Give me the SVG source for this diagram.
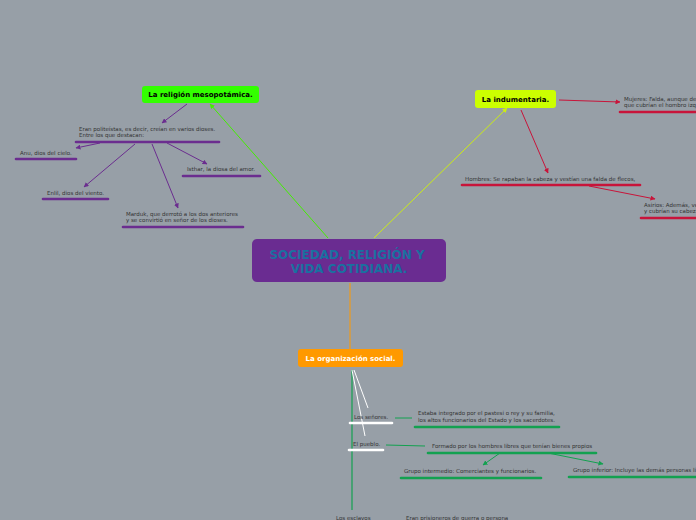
<svg xmlns="http://www.w3.org/2000/svg" width="696" height="520" viewBox="0 0 696 520">
<defs>
<marker id="ap" viewBox="0 0 10 10" refX="9" refY="5" markerWidth="5" markerHeight="5" orient="auto" markerUnits="userSpaceOnUse"><path d="M0,0L10,5L0,10z" fill="#6b2d8f"/></marker>
<marker id="ar" viewBox="0 0 10 10" refX="9" refY="5" markerWidth="5" markerHeight="5" orient="auto" markerUnits="userSpaceOnUse"><path d="M0,0L10,5L0,10z" fill="#c8143a"/></marker>
<marker id="ag" viewBox="0 0 10 10" refX="9" refY="5" markerWidth="5" markerHeight="5" orient="auto" markerUnits="userSpaceOnUse"><path d="M0,0L10,5L0,10z" fill="#13a150"/></marker>
<marker id="agr" viewBox="0 0 10 10" refX="9" refY="5" markerWidth="5" markerHeight="5" orient="auto" markerUnits="userSpaceOnUse"><path d="M0,0L10,5L0,10z" fill="#44ee00"/></marker>
<marker id="ay" viewBox="0 0 10 10" refX="9" refY="5" markerWidth="5" markerHeight="5" orient="auto" markerUnits="userSpaceOnUse"><path d="M0,0L10,5L0,10z" fill="#ccee11"/></marker>
</defs>
<style>
.t{font-family:"DejaVu Sans",Verdana,sans-serif;font-size:5.5px;fill:#333}
.h{font-family:"DejaVu Sans",Verdana,sans-serif;font-size:7px;font-weight:bold;text-anchor:middle}
.p{stroke:#6b2d8f;stroke-width:1;fill:none}
.r{stroke:#c8143a;stroke-width:1;fill:none}
.g{stroke:#13a150;stroke-width:1;fill:none}
.up{stroke:#6b2d8f;stroke-width:2.6;stroke-linecap:round}
.ur{stroke:#c8143a;stroke-width:2.6;stroke-linecap:round}
.ug{stroke:#13a150;stroke-width:2.6;stroke-linecap:round}
.uw{stroke:#ffffff;stroke-width:2.6;stroke-linecap:round}
</style>
<rect width="696" height="520" fill="#979fa7"/>
<g id="connectors">
<line x1="328" y1="238" x2="210" y2="104" stroke="#44ee00" stroke-width="1" marker-end="url(#agr)"/>
<line x1="374" y1="238" x2="507" y2="108" stroke="#ccee11" stroke-width="1" marker-end="url(#ay)"/>
<line x1="350" y1="283" x2="350" y2="349" stroke="#ff9900" stroke-width="1"/>
<line x1="187" y1="104" x2="162" y2="123" class="p" marker-end="url(#ap)"/>
<line x1="100" y1="143" x2="76" y2="148" class="p" marker-end="url(#ap)"/>
<line x1="135" y1="144" x2="84" y2="187" class="p" marker-end="url(#ap)"/>
<line x1="152" y1="144" x2="178" y2="208" class="p" marker-end="url(#ap)"/>
<line x1="167" y1="143" x2="207" y2="164" class="p" marker-end="url(#ap)"/>
<line x1="559" y1="100" x2="620" y2="102" class="r" marker-end="url(#ar)"/>
<line x1="521" y1="110" x2="548" y2="173" class="r" marker-end="url(#ar)"/>
<line x1="589" y1="186" x2="655" y2="199" class="r" marker-end="url(#ar)"/>
<line x1="352" y1="370" x2="352" y2="510" stroke="#13a150" stroke-width="1.2"/>
<line x1="354" y1="370" x2="368" y2="408" stroke="#ffffff" stroke-width="1"/>
<line x1="352" y1="370" x2="365" y2="436" stroke="#ffffff" stroke-width="1"/>
<line x1="395" y1="418" x2="412" y2="418" class="g"/>
<line x1="386" y1="445" x2="425" y2="446" class="g"/>
<line x1="500" y1="453" x2="483" y2="465" class="g" marker-end="url(#ag)"/>
<line x1="548" y1="453" x2="603" y2="464" class="g" marker-end="url(#ag)"/>
</g>
<g id="central">
<rect x="252" y="239" width="194" height="43" rx="5" fill="#6a2c91"/>
<text x="347" y="259" font-family="DejaVu Sans,Verdana,sans-serif" font-size="12" font-weight="bold" fill="#1a70a0" text-anchor="middle">SOCIEDAD, RELIGIÓN Y</text>
<text x="349" y="273" font-family="DejaVu Sans,Verdana,sans-serif" font-size="12" font-weight="bold" fill="#1a70a0" text-anchor="middle">VIDA COTIDIANA.</text>
</g>
<g id="religion">
<rect x="142" y="86" width="117" height="17" rx="3" fill="#33ff00"/>
<text x="200.5" y="97" class="h" fill="#000">La religión mesopotámica.</text>
</g>
<g id="politeistas">
<text x="79" y="131" class="t">Eran politeístas, es decir, creían en varios dioses.</text>
<text x="79" y="137" class="t">Entre los que destacan:</text>
<line x1="76" y1="142" x2="219" y2="142" class="up"/>
</g>
<g id="anu">
<text x="20" y="155" class="t">Anu, dios del cielo.</text>
<line x1="16" y1="159" x2="76" y2="159" class="up"/>
</g>
<g id="enlil">
<text x="47" y="195" class="t">Enlil, dios del viento.</text>
<line x1="43" y1="199" x2="108" y2="199" class="up"/>
</g>
<g id="marduk">
<text x="126" y="216" class="t">Marduk, que derrotó a los dos anteriores</text>
<text x="126" y="222" class="t">y se convirtió en señor de los dioses.</text>
<line x1="123" y1="227" x2="243" y2="227" class="up"/>
</g>
<g id="isthar">
<text x="187" y="171" class="t">Isthar, la diosa del amor.</text>
<line x1="183" y1="176" x2="260" y2="176" class="up"/>
</g>
<g id="indumentaria">
<rect x="475" y="90" width="81" height="18" rx="3" fill="#ccff00"/>
<text x="515.5" y="101.5" class="h" fill="#000">La indumentaria.</text>
</g>
<g id="mujeres">
<text x="624" y="101" class="t">Mujeres: Falda, aunque dejaban</text>
<text x="624" y="107" class="t">que cubrían el hombro izquierdo</text>
<line x1="620" y1="112" x2="700" y2="112" class="ur"/>
</g>
<g id="hombres">
<text x="465" y="181" class="t">Hombres: Se rapaban la cabeza y vestían una falda de flecos,</text>
<line x1="462" y1="185" x2="640" y2="185" class="ur"/>
</g>
<g id="asirios">
<text x="644" y="207" class="t">Asirios: Además, vestían</text>
<text x="644" y="213" class="t">y cubrían su cabeza</text>
<line x1="641" y1="218" x2="700" y2="218" class="ur"/>
</g>
<g id="organizacion">
<rect x="298" y="349" width="105" height="18" rx="3" fill="#ff9900"/>
<text x="350.5" y="360.5" class="h" fill="#ffffff">La organización social.</text>
</g>
<g id="senores">
<text x="354" y="419" class="t">Los señores.</text>
<line x1="350" y1="423" x2="392" y2="423" class="uw"/>
</g>
<g id="pueblo">
<text x="353" y="446" class="t">El pueblo.</text>
<line x1="349" y1="450" x2="383" y2="450" class="uw"/>
</g>
<g id="estaba">
<text x="418" y="415" class="t">Estaba integrado por el pastesi o rey y su familia,</text>
<text x="418" y="422" class="t">los altos funcionarios del Estado y los sacerdotes.</text>
<line x1="415" y1="427" x2="559" y2="427" class="ug"/>
</g>
<g id="formado">
<text x="432" y="448" class="t">Formado por los hombres libres que tenían bienes propios</text>
<line x1="428" y1="453" x2="596" y2="453" class="ug"/>
</g>
<g id="intermedio">
<text x="404" y="473" class="t">Grupo intermedio: Comerciantes y funcionarios.</text>
<line x1="401" y1="478" x2="541" y2="478" class="ug"/>
</g>
<g id="inferior">
<text x="573" y="472" class="t">Grupo inferior: Incluye las demás personas libres</text>
<line x1="569" y1="477" x2="700" y2="477" class="ug"/>
</g>
<g id="esclavos">
<text x="336" y="520" class="t">Los esclavos</text>
</g>
<g id="prisioneros">
<text x="406" y="520" class="t">Eran prisioneros de guerra o persona</text>
</g>
</svg>
